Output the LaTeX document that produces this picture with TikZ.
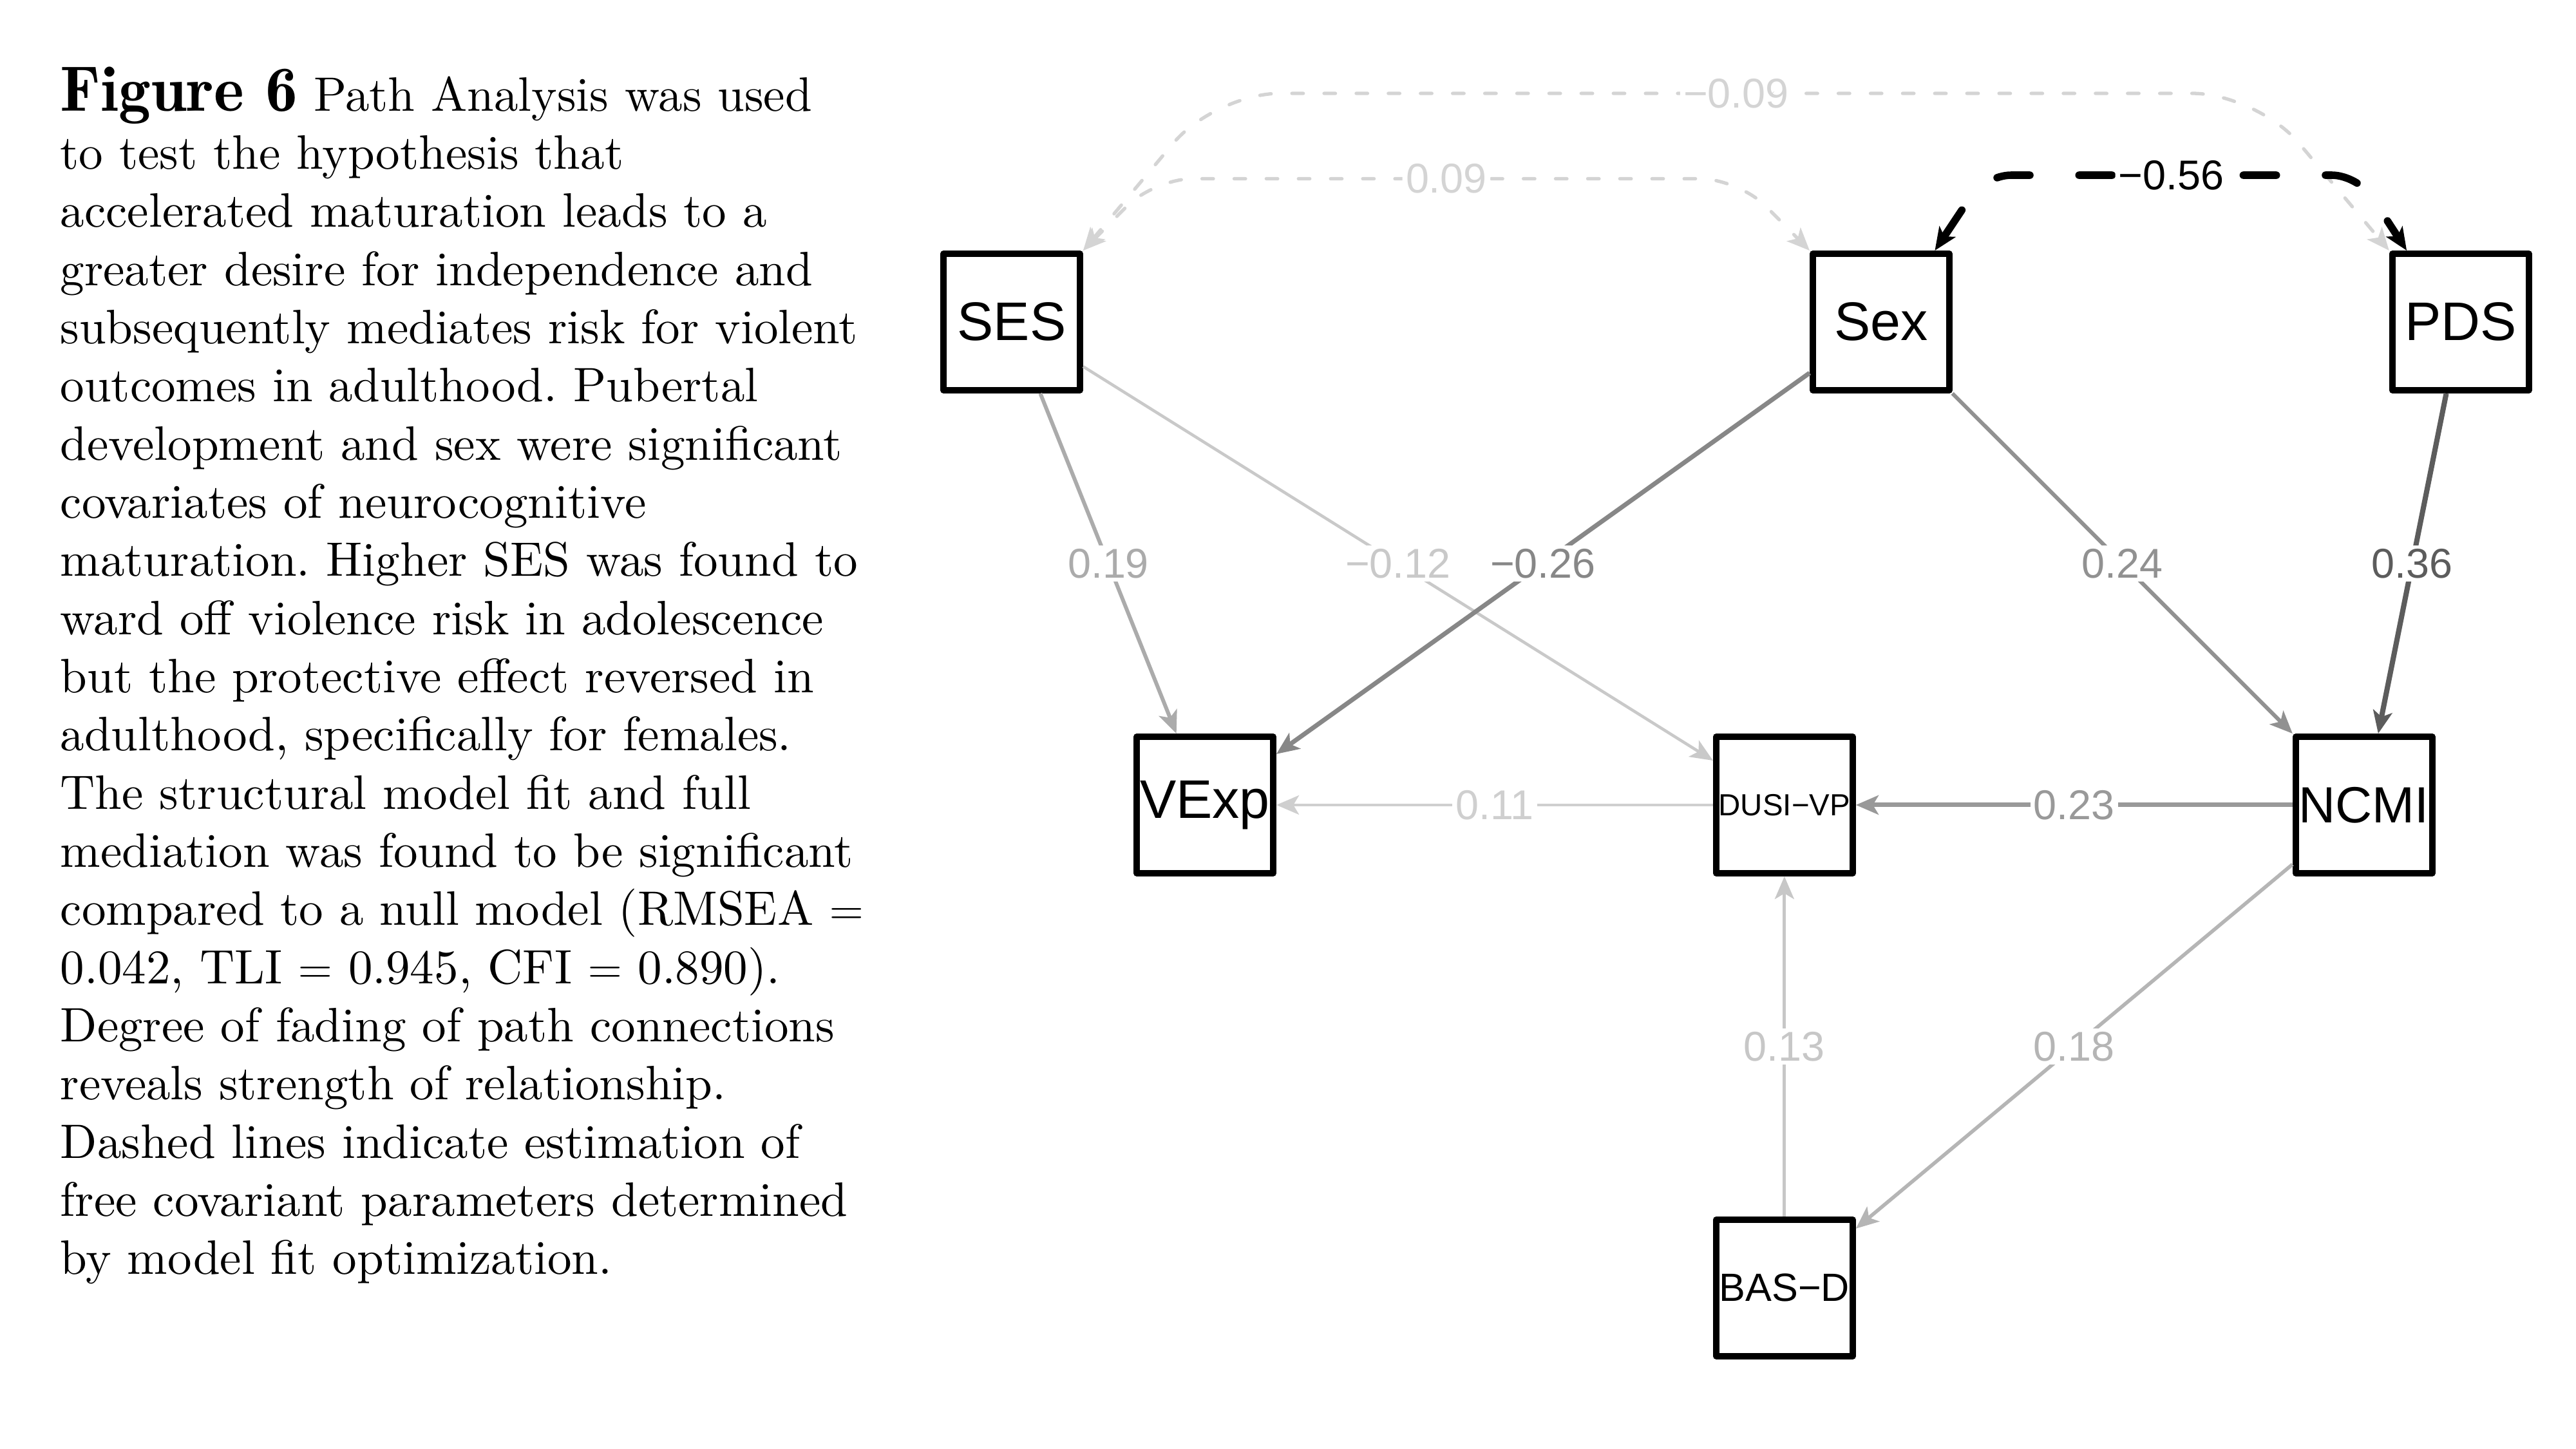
\documentclass[tikz,border=0pt]{standalone}
\usepackage{fontspec}
\setmainfont{lmroman10-regular.otf}[BoldFont=lmromandemi10-regular.otf]
\newfontfamily\semfont{Liberation Sans}
\usetikzlibrary{positioning,calc,arrows.meta}
\frenchspacing

% fading of the paths
\definecolor{g09}{gray}{0.83}
\definecolor{g11}{gray}{0.81}
\definecolor{g12}{gray}{0.79}
\definecolor{g13}{gray}{0.78}
\definecolor{g18}{gray}{0.71}
\definecolor{g19}{gray}{0.67}
\definecolor{g23}{gray}{0.60}
\definecolor{g24}{gray}{0.57}
\definecolor{g26}{gray}{0.53}
\definecolor{g36}{gray}{0.36}

\tikzset{
  var/.style={draw, rectangle, line width=2.8pt, line join=round, fill=white,
    minimum size=2.12cm, inner sep=0pt, font=\semfont\fontsize{24}{28}\selectfont},
  reg/.style 2 args={draw=#1, line width=#2,
    -{Stealth[length=10pt, width=8.5pt, inset=2.5pt]}},
  cov/.style 2 args={draw=#1, line width=#2, line cap=round,
    {Stealth[length=10pt, width=8.5pt, inset=2.5pt]}-{Stealth[length=10pt, width=8.5pt, inset=2.5pt]}},
  lbl/.style={fill=white, inner sep=1.5pt, text=#1,
    font=\semfont\fontsize{18.4}{22}\selectfont}
}

\begin{document}
\begin{tikzpicture}
  \useasboundingbox (0,0) rectangle (40,22.5);

  % caption
  \node[anchor=north west, inner sep=0pt, align=left,
    font=\fontsize{21.35}{25.7}\selectfont] (caption) at (0.93,21.47) {%
    {\fontsize{28.4}{25.7}\selectfont\bfseries Figure 6} Path Analysis was used\\
    to test the hypothesis that\\
    accelerated maturation leads to a\\
    greater desire for independence and\\
    subsequently mediates risk for violent\\
    outcomes in adulthood. Pubertal\\
    development and sex were significant\\
    covariates of neurocognitive\\
    maturation. Higher SES was found to\\
    ward off violence risk in adolescence\\
    but the protective effect reversed in\\
    adulthood, specifically for females.\\
    The structural model fit and full\\
    mediation was found to be significant\\
    compared to a null model (RMSEA $=$\\
    0.042, TLI $=$ 0.945, CFI $=$ 0.890).\\
    Degree of fading of path connections\\
    reveals strength of relationship.\\
    Dashed lines indicate estimation of\\
    free covariant parameters determined\\
    by model fit optimization.};

  % variables
  \node[var] (ses) at (15.71,17.5) {SES};
  \node[var, right=11.28cm of ses] (sex) {Sex};
  \node[var, right=6.78cm of sex] (pds) {PDS};
  \node[var] (vexp) at (18.71,10) {VExp};
  \node[var, right=6.78cm of vexp, font=\semfont\fontsize{13.5}{16}\selectfont] (dusi) {DUSI−VP};
  \node[var, right=6.78cm of dusi, font=\semfont\fontsize{22.5}{26}\selectfont] (ncmi) {NCMI};
  \node[var, below=5.28cm of dusi, font=\semfont\fontsize{17.4}{20}\selectfont] (basd) {BAS−D};

  % regressions
  \draw[reg={g19}{1.7pt}] (ses) -- node[lbl=g19] {0.19} (vexp);
  \draw[reg={g12}{1.3pt}] (ses) -- node[lbl=g12] {−0.12} (dusi);
  \draw[reg={g26}{2pt}] (sex) -- node[lbl=g26] {−0.26} (vexp);
  \draw[reg={g24}{1.7pt}] (sex) -- node[lbl=g24] {0.24} (ncmi);
  \draw[reg={g36}{2.3pt}] (pds) -- node[lbl=g36] {0.36} (ncmi);
  \draw[reg={g11}{1.3pt}] (dusi) -- node[lbl=g11] {0.11} (vexp);
  \draw[reg={g23}{2pt}] (ncmi) -- node[lbl=g23] {0.23} (dusi);
  \draw[reg={g13}{1.4pt}] (basd) -- node[lbl=g13] {0.13} (dusi);
  \draw[reg={g18}{1.6pt}] (ncmi) -- node[lbl=g18] {0.18} (basd);

  % covariances
  \draw[cov={g09}{1.5pt}, dash pattern=on 5pt off 9.2pt, rounded corners=1cm]
    (ses.north east) -- ++(2.05,2.44) -- ($(pds.north west)+(-2.05,2.44)$)
    node[midway, lbl=g09] {−0.09} -- (pds.north west);
  \draw[cov={g09}{1.5pt}, dash pattern=on 5pt off 9.2pt, rounded corners=0.6cm]
    (ses.north east) -- ++(1.1,1.115) -- ($(sex.north west)+(-1.1,1.115)$)
    node[midway, lbl=g09] {0.09} -- (sex.north west);
  \draw[cov={black}{3.3pt}, dash pattern=on 14.6pt off 21.7pt, rounded corners=0.4cm]
    (sex.53) -- ++(0.78,1.17) -- ($(pds.127)+(-0.76,1.17)$)
    node[midway, lbl=black] {−0.56} -- (pds.127);
\end{tikzpicture}
\end{document}
